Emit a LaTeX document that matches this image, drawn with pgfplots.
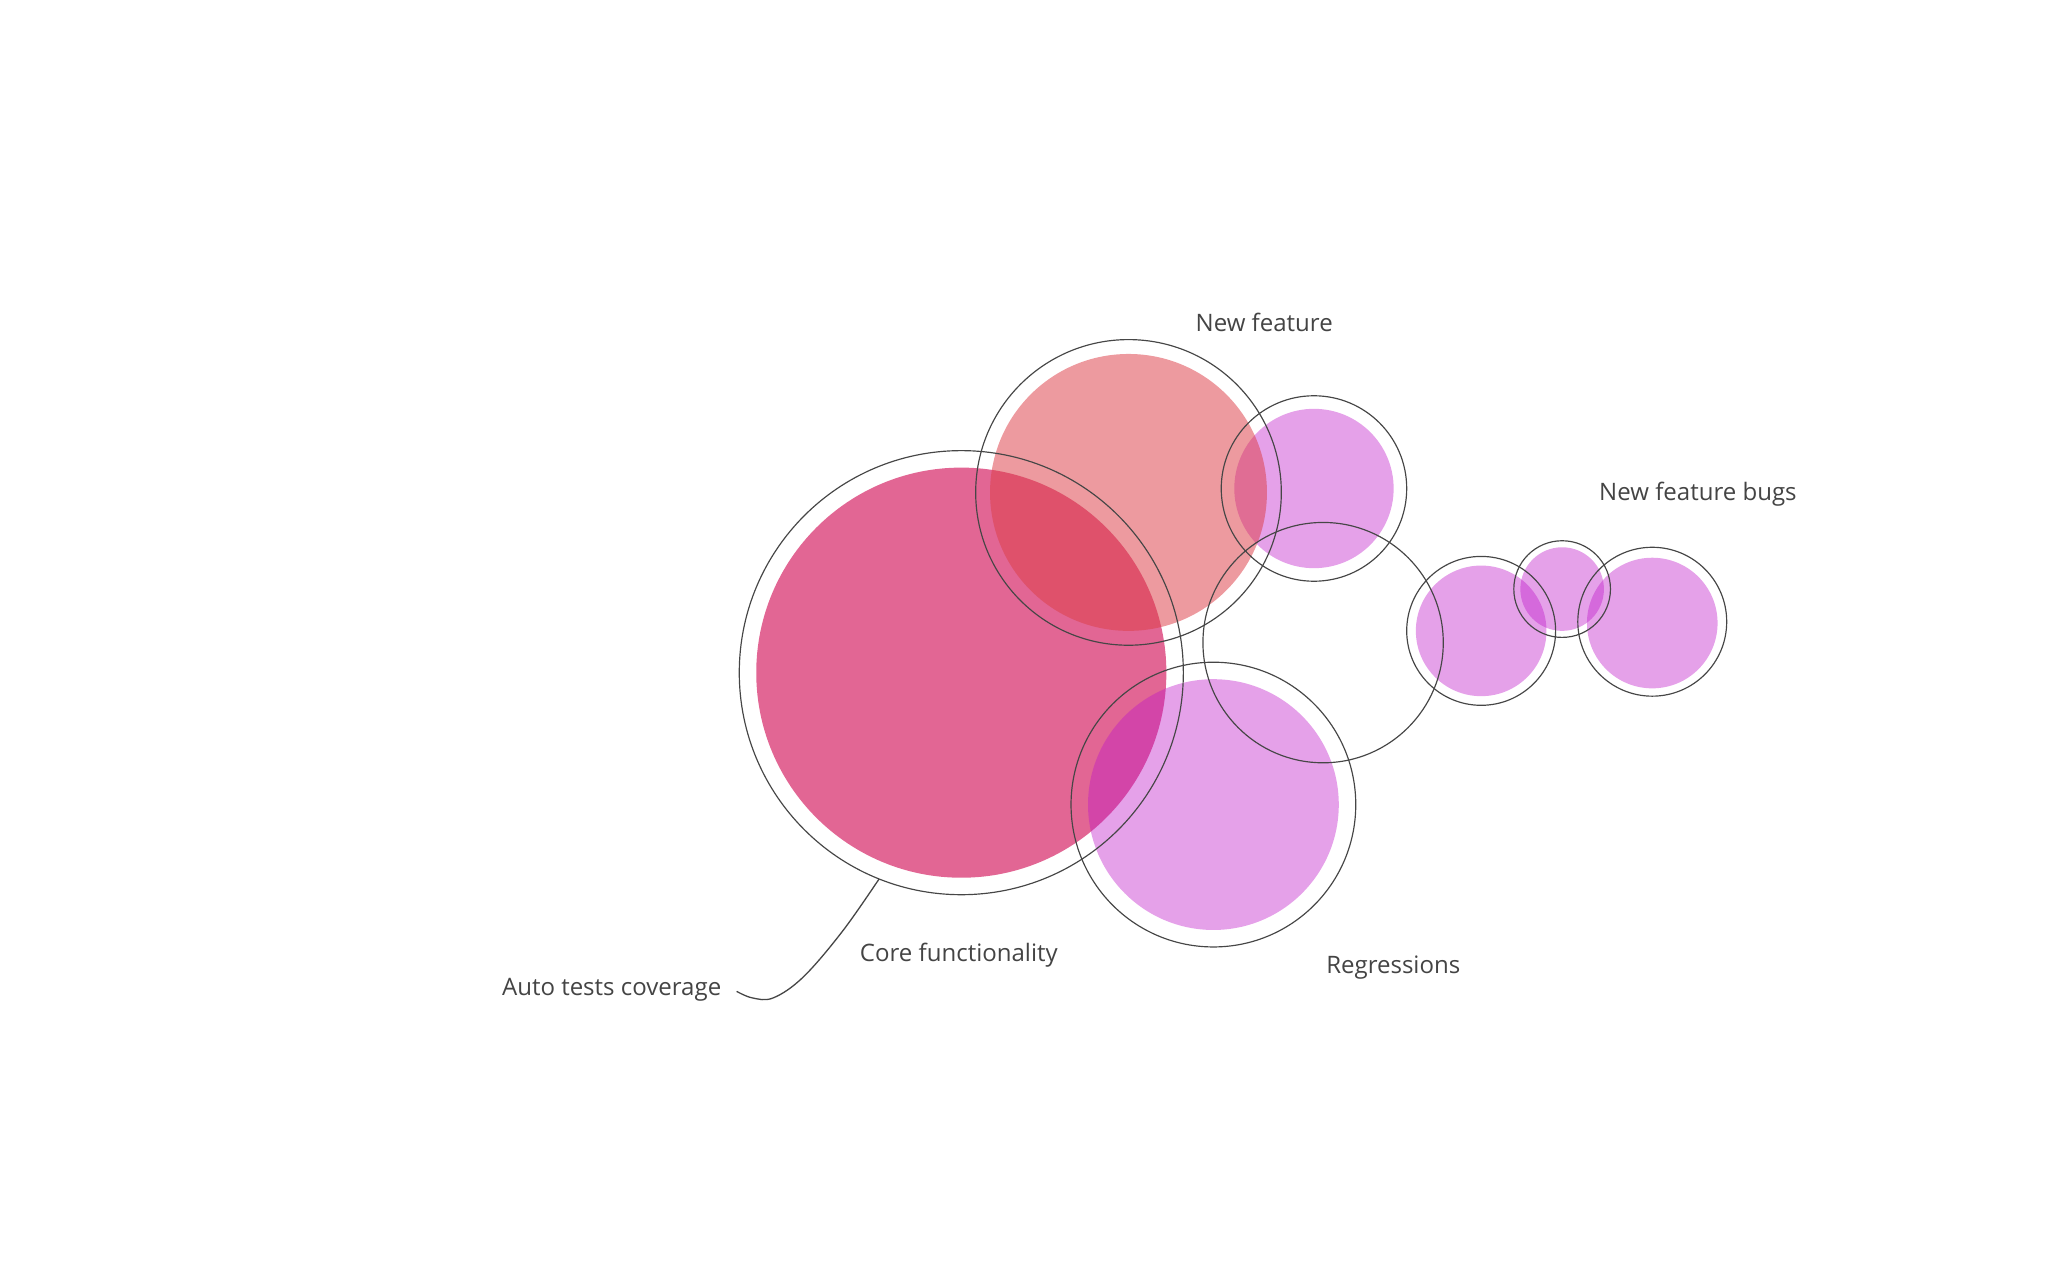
\documentclass[border=0pt]{standalone}
\usepackage{pgfplots}
\pgfplotsset{compat=1.18}
\usepackage{pgfplotstable}
\usepackage{fontspec}
\setmainfont{Open Sans}

\definecolor{redbase}{RGB}{210,20,90}
\definecolor{salmonbase}{RGB}{220,62,70}
\definecolor{purplebase}{RGB}{190,20,200}
\definecolor{ringgray}{RGB}{70,70,70}
\definecolor{labelgray}{RGB}{68,68,68}

% bubbles in picture pixels: x, y (downwards), radius
\pgfplotstableread{
x y r
736 515 157
}\redfill
\pgfplotstableread{
x y r
864 377 106
}\salmonfill
\pgfplotstableread{
x y r
1006 374 61
929 616 96
1134 483 50
1196 451 32
1265 477 50
}\purplefill
\pgfplotstableread{
x y r
736 515 170
864 377 117
1006 374 71
1013 492 92
929 616 109
1134 483 57
1196 451 37
1265 476 57
}\rings

\begin{document}
\begin{tikzpicture}
  \begin{axis}[
    width=784pt, height=490pt, scale only axis,
    xmin=0, xmax=1568, ymin=0, ymax=980,
    y dir=reverse,
    hide axis, clip=false,
    bubble/.style={
      scatter, only marks,
      scatter/use mapped color={#1},
      visualization depends on={0.5*\thisrow{r} \as \rad},
      scatter/@pre marker code/.append style={/tikz/mark size=\rad pt},
    },
    nodes={font=\fontsize{9.2}{11}\selectfont, text=labelgray, inner sep=0pt},
  ]
    % frame the page
    \addplot[draw=none] coordinates {(0,0) (1568,980)};

    \addplot[mark=*, bubble={draw=redbase, draw opacity=0, fill=redbase, fill opacity=0.65}] table {\redfill};
    \addplot[mark=*, bubble={draw=purplebase, draw opacity=0, fill=purplebase, fill opacity=0.4}] table {\purplefill};
    \addplot[mark=*, bubble={draw=salmonbase, draw opacity=0, fill=salmonbase, fill opacity=0.52}] table {\salmonfill};

    \addplot[mark=o, bubble={draw=ringgray, fill=none, line width=0.45pt}] table {\rings};

    % connector for the outer ring
    \addplot[ringgray, line width=0.5pt, smooth, tension=0.6] coordinates {
      (673,673) (645,713) (615,748) (592,764) (576,764) (564,759)
    };

    \node[anchor=base west] at (axis cs:915,254) {New feature};
    \node[anchor=base west] at (axis cs:1224,383) {New feature bugs};
    \node[anchor=base west] at (axis cs:658,736) {Core functionality};
    \node[anchor=base west] at (axis cs:1015,745) {Regressions};
    \node[anchor=base west] at (axis cs:384,762) {Auto tests coverage};
  \end{axis}
\end{tikzpicture}
\end{document}
